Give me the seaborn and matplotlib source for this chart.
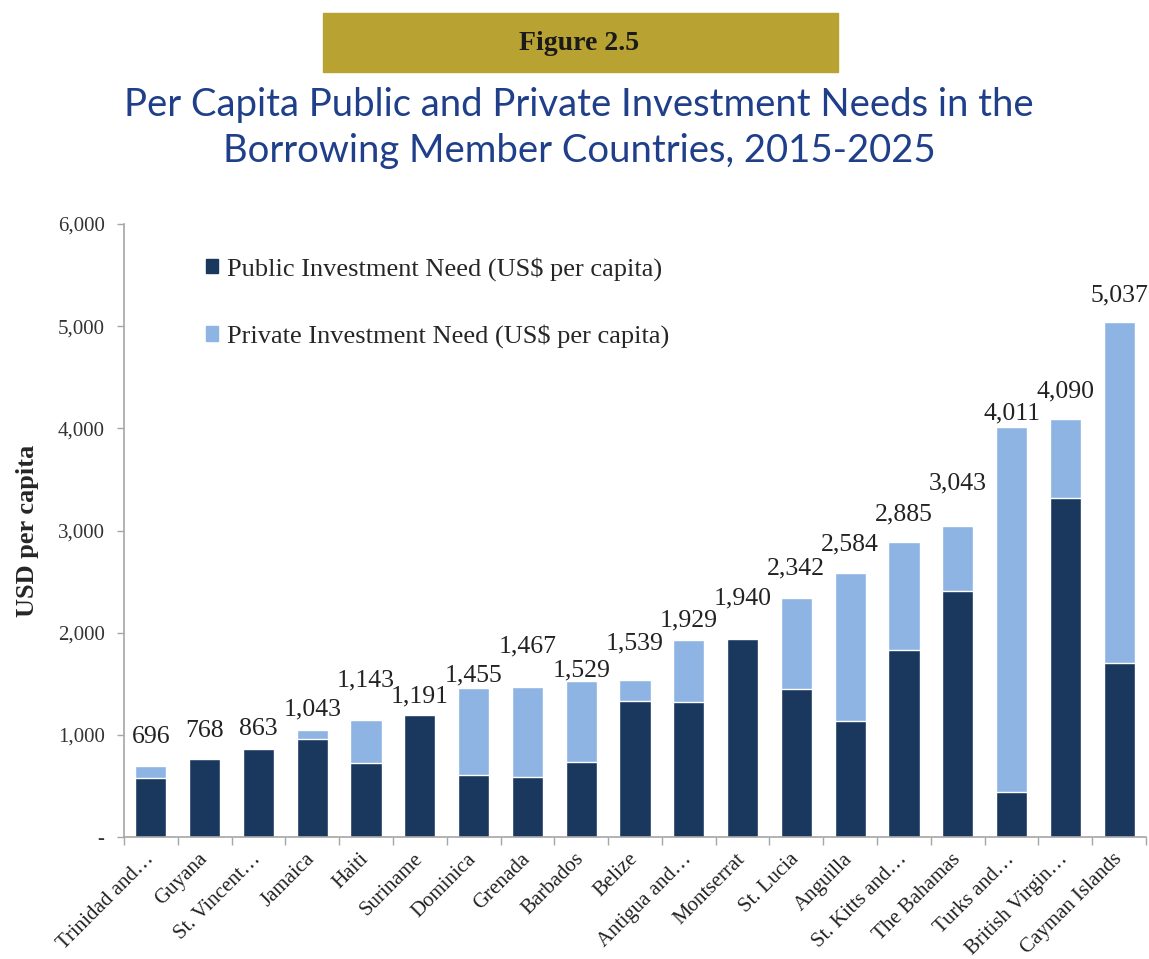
import numpy as np
import pandas as pd
import matplotlib
matplotlib.use("Agg")
import matplotlib.pyplot as plt
from matplotlib.patches import Patch, Rectangle
from matplotlib.ticker import FixedLocator, FuncFormatter
import seaborn as sns

countries = ["Trinidad and…", "Guyana", "St. Vincent…", "Jamaica", "Haiti",
             "Suriname", "Dominica", "Grenada", "Barbados", "Belize",
             "Antigua and…", "Montserrat", "St. Lucia", "Anguilla",
             "St. Kitts and…", "The Bahamas", "Turks and…", "British Virgin…",
             "Cayman Islands"]
total = [696, 768, 863, 1043, 1143, 1191, 1455, 1467, 1529, 1539,
         1929, 1940, 2342, 2584, 2885, 3043, 4011, 4090, 5037]
public = [577, 768, 863, 964, 729, 1191, 602, 592, 736, 1329,
          1320, 1940, 1451, 1131, 1832, 2412, 440, 3314, 1701]

# gap (px) between bar top and value label, as placed in the original
label_gap = [23, 22, 14, 15, 34, 13, 7, 35, 4, 30,
             13, 34, 23, 23, 22, 37, 8, 22, 21]

df = pd.DataFrame({"country": countries, "total": total, "public": public})

sns.set_style("white")
plt.rcParams["font.family"] = ["Liberation Serif", "DejaVu Sans"]

dark = "#1A375E"
light = "#8EB4E3"

W, H = 1149, 959
fig = plt.figure(figsize=(W / 100, H / 100), dpi=100)
ax = fig.add_axes([124 / W, 1 - 837 / H, 1022 / W, (837 - 224) / H])

sns.barplot(data=df, x="country", y="total", color=light, width=0.58,
            saturation=1, ax=ax)
sns.barplot(data=df, x="country", y="public", color=dark, width=0.58,
            saturation=1, ax=ax)

ax.set_ylim(0, 6000)
ax.set_xlim(-0.5, len(countries) - 0.5)
ax.set_yticks(range(0, 6001, 1000))
ax.yaxis.set_major_formatter(FuncFormatter(lambda v, p: "-" if v == 0 else f"{int(v):,}"))
ax.tick_params(axis="y", labelsize=15, labelcolor="#333333", length=5, width=1,
               direction="out", left=True, pad=9, color="#A6A6A6")

# x: labels at centres, tick marks between categories
ax.set_xticks(range(len(countries)))
ax.set_xticklabels(countries, rotation=45, ha="right", va="center",
                   rotation_mode="anchor", fontsize=15, color="#222222")
ax.tick_params(axis="x", length=0, pad=14)
ax.xaxis.set_minor_locator(FixedLocator(np.arange(-0.5, len(countries), 1)))
ax.tick_params(axis="x", which="minor", length=6, width=1, color="#A6A6A6",
               direction="out", bottom=True)

for s in ["top", "right"]:
    ax.spines[s].set_visible(False)
for s in ["left", "bottom"]:
    ax.spines[s].set_color("#A6A6A6")
    ax.spines[s].set_linewidth(1.2)

ax.set_xlabel("")
ax.set_ylabel("USD per capita", fontsize=19, fontweight="bold")
ax.yaxis.set_label_coords(-0.083, 0.5)

for i, t in enumerate(total):
    ax.annotate(f"{t:,}", (i, t), xytext=(0, label_gap[i] * 0.72),
                textcoords="offset points", ha="center", va="baseline",
                fontsize=18.5, color="#222222")

handles = [Patch(color=dark, label="Public Investment Need (US$ per capita)"),
           Patch(color=light, label="Private Investment Need (US$ per capita)")]
ax.legend(handles=handles, loc="upper left", bbox_to_anchor=(0.057, 0.985),
          frameon=False, fontsize=19, handlelength=0.45, handleheight=0.45,
          handletextpad=0.35, labelspacing=1.65)

# banner and title
fig.patches.append(Rectangle((323 / W, 1 - 72 / H), (838 - 323) / W, 59 / H,
                             transform=fig.transFigure, color="#B8A232",
                             zorder=0))
fig.text(579 / W, 1 - 44 / H, "Figure 2.5", ha="center", va="center",
         fontsize=20, fontweight="bold", color="#1a1a1a")
fig.text(579 / W, 1 - 128 / H,
         "Per Capita Public and Private Investment Needs in the\n"
         "Borrowing Member Countries, 2015-2025",
         ha="center", va="center", fontsize=27.5, color="#1F3F8A",
         family=["Lato", "DejaVu Sans"], linespacing=1.33)

fig.savefig("out.png", dpi=100)
